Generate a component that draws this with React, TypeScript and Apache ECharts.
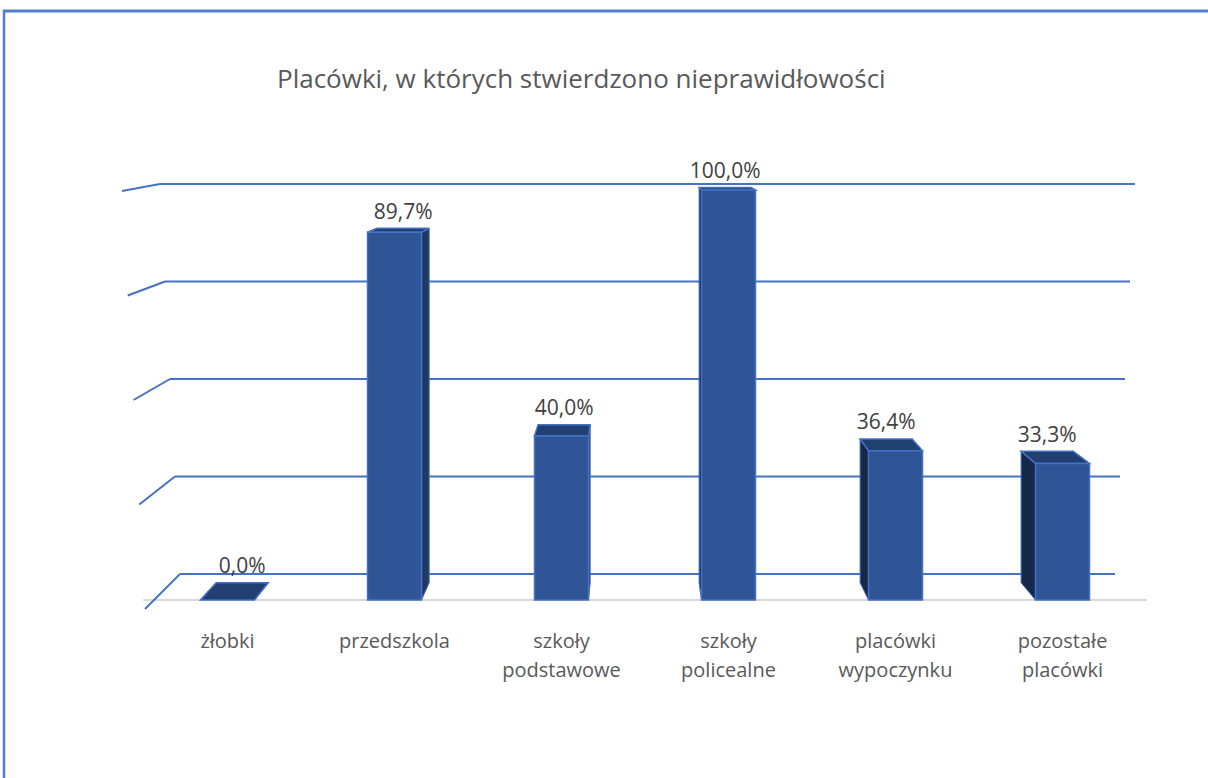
import React, { useEffect, useRef } from "react";
import * as echarts from "echarts";

const categories = ["żłobki", "przedszkola", "szkoły\npodstawowe", "szkoły\npolicealne", "placówki\nwypoczynku", "pozostałe\nplacówki"];
const values = [0.0, 89.7, 40.0, 100.0, 36.4, 33.3];
const gridTicks = [0, 25, 50, 75, 100];
const titleText = "Placówki, w których stwierdzono nieprawidłowości";

const FONT = "'Open Sans', 'Noto Sans', sans-serif";

export default function App() {
  const ref = useRef<HTMLDivElement>(null);
  useEffect(() => {
    if (!ref.current) return;
    const chart = echarts.init(ref.current, undefined, { renderer: "svg" });
    const fmt = (v: number) => v.toFixed(1).replace(".", ",") + "%";
    const option: any = {
      animation: false,
      backgroundColor: "#ffffff",
      title: {
        text: titleText,
        left: 272,
        top: 60,
        textStyle: { fontFamily: FONT, fontSize: 26, fontWeight: "normal", color: "#595959" },
      },
      grid: [
        { left: 144, right: 62, top: 190, bottom: 178 },
        { left: 160, right: 73, top: 184, bottom: 204 },
      ],
      xAxis: [
        {
          type: "category",
          gridIndex: 0,
          data: categories,
          offset: 10,
          axisLine: { lineStyle: { color: "#D9D9D9", width: 2 } },
          axisTick: { show: false },
          axisLabel: { color: "#595959", fontFamily: FONT, fontSize: 20, lineHeight: 29, margin: 16, interval: 0 },
          splitLine: { show: false },
        },
        { type: "value", gridIndex: 1, min: 0, max: 1, show: false },
      ],
      yAxis: [
        { type: "value", gridIndex: 0, min: 0, max: 100, show: false },
        { type: "value", gridIndex: 1, min: 0, max: 100, interval: 25, show: false },
      ],
      series: [
        {
          type: "custom",
          xAxisIndex: 1,
          yAxisIndex: 1,
          data: gridTicks.map((t) => [0, t]),
          silent: true,
          z: 1,
          renderItem: (params: any, api: any) => {
            const v = api.value(1);
            const t = (100 - v) / 100;
            const l = api.coord([0, v]);
            const r = api.coord([1, v]);
            const x0 = l[0] + 20 * t;
            const x1 = r[0] - 20 * t;
            const y = l[1];
            return {
              type: "group",
              children: [
                { type: "line", shape: { x1: x0, y1: y, x2: x1, y2: y }, style: { stroke: "#4472C4", lineWidth: 2 } },
                { type: "line", shape: { x1: x0, y1: y, x2: x0 - 38 + 3 * t, y2: y + 7 + 28 * t }, style: { stroke: "#4472C4", lineWidth: 2 } },
              ],
            };
          },
        },
        {
          type: "custom",
          xAxisIndex: 0,
          yAxisIndex: 0,
          data: values.map((v, i) => [i, v]),
          z: 5,
          renderItem: (params: any, api: any) => {
            const idx = api.value(0);
            const v = api.value(1);
            const base = api.coord([idx, 0]);
            const top = api.coord([idx, v]);
            const cs = params.coordSys;
            const VPX = cs.x + cs.width * 0.49;
            const VPY = cs.y - 68;
            const k = 0.036;
            const hw = 27;
            const cx = base[0];
            const yb = base[1];
            const yt = top[1];
            const back = (p: number[]) => [p[0] + k * (VPX - p[0]), p[1] + k * (VPY - p[1])];
            const ftl = [cx - hw, yt], ftr = [cx + hw, yt], fbl = [cx - hw, yb], fbr = [cx + hw, yb];
            const btl = back(ftl), btr = back(ftr), bbl = back(fbl), bbr = back(fbr);
            const edge = "#4472C4";
            const children: any[] = [
              { type: "polygon", shape: { points: [ftl, btl, bbl, fbl] }, style: { fill: "#16284A", stroke: edge, lineWidth: 1 } },
              { type: "polygon", shape: { points: [ftr, btr, bbr, fbr] }, style: { fill: "#1F3864", stroke: edge, lineWidth: 1 } },
              { type: "polygon", shape: { points: [ftl, btl, btr, ftr] }, style: { fill: "#223F72", stroke: edge, lineWidth: 1.5 } },
            ];
            if (yb - yt > 0.5) {
              children.push({
                type: "rect",
                shape: { x: cx - hw, y: yt, width: 2 * hw, height: yb - yt },
                style: { fill: "#2F5597", stroke: edge, lineWidth: 1.5 },
              });
            }
            const labelY = Math.min(btl[1], btr[1]) - 7;
            children.push({
              type: "text",
              x: (btl[0] + btr[0]) / 2,
              y: labelY,
              style: {
                text: fmt(v),
                fill: "#404040",
                font: `21px ${FONT}`,
                align: "center",
                verticalAlign: "bottom",
              },
            });
            return { type: "group", children };
          },
        },
      ],
      graphic: [
        { type: "line", shape: { x1: 3, y1: 11, x2: 1208, y2: 11 }, style: { stroke: "#4F7FD0", lineWidth: 3 } },
        { type: "line", shape: { x1: 4, y1: 10, x2: 4, y2: 778 }, style: { stroke: "#4F7FD0", lineWidth: 2.5 } },
      ],
    };
    chart.setOption(option);
    return () => chart.dispose();
  }, []);
  return <div ref={ref} style={{ position: "absolute", left: 0, top: 0, width: 1208, height: 778 }} />;
}
